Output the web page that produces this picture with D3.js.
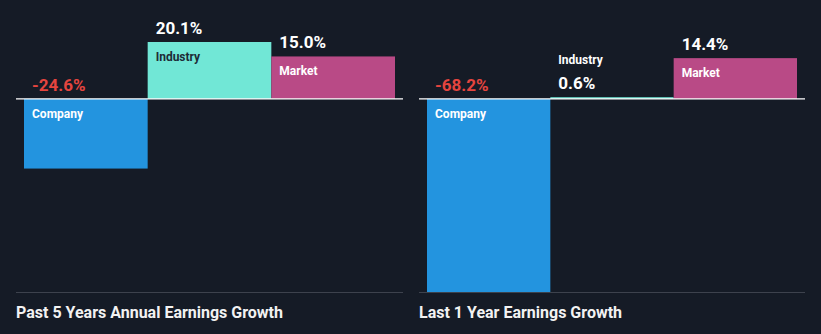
<!DOCTYPE html>
<html>
<head>
<meta charset="utf-8">
<script src="https://cdn.jsdelivr.net/npm/d3@7"></script>
<style>
  html, body { margin: 0; padding: 0; background: #151b26; }
  svg { display: block; }
  text { font-family: Roboto, "Noto Sans", sans-serif; }
</style>
</head>
<body>
<svg id="chart" width="821" height="334"></svg>
<script>
// Earnings growth comparison: company vs industry vs market
const categories = ["Company", "Industry", "Market"];
const pastFiveYears = [-24.6, 20.1, 15.0];
const lastOneYear = [-68.2, 0.6, 14.4];
const panelTitles = ["Past 5 Years Annual Earnings Growth", "Last 1 Year Earnings Growth"];

const colors = { Company: "#2394df", Industry: "#71e7d6", Market: "#b94a86" };
const labelColors = { Company: "#ffffff", Industry: "#1d2b36", Market: "#ffffff" };

const W = 821, H = 334;
const svg = d3.select("#chart");
svg.append("rect").attr("width", W).attr("height", H).attr("fill", "#151b26");

const allValues = pastFiveYears.concat(lastOneYear);
const y = d3.scaleLinear()
  .domain([d3.min(allValues), d3.max(allValues)])
  .range([292, 42]);

const fmt = v => d3.format(".1f")(v).replace("\u2212", "-") + "%";

const panels = [
  { values: pastFiveYears, title: panelTitles[0], lineX: [16, 403], barX: [24, 395] },
  { values: lastOneYear, title: panelTitles[1], lineX: [419, 805], barX: [427, 797] }
];

panels.forEach(p => {
  const g = svg.append("g");
  const x = d3.scaleBand().domain(categories).range(p.barX).padding(0);
  const data = categories.map((c, i) => ({ cat: c, v: p.values[i] }));

  // bottom rule
  g.append("line")
    .attr("x1", p.lineX[0]).attr("x2", p.lineX[1])
    .attr("y1", 292.5).attr("y2", 292.5)
    .attr("stroke", "#3d424d").attr("stroke-width", 1);

  // bars
  g.selectAll("rect.bar").data(data).enter().append("rect")
    .attr("class", "bar")
    .attr("x", d => x(d.cat))
    .attr("width", x.bandwidth())
    .attr("y", d => Math.min(y(d.v), y(0)))
    .attr("height", d => Math.abs(y(d.v) - y(0)))
    .attr("fill", d => colors[d.cat]);

  // zero line
  g.append("line")
    .attr("x1", p.lineX[0]).attr("x2", p.lineX[1])
    .attr("y1", y(0)).attr("y2", y(0))
    .attr("stroke", "#ffffff").attr("stroke-width", 1.2);

  data.forEach(d => {
    const bx = x(d.cat) + 8;
    const h = Math.abs(y(d.v) - y(0));
    const top = Math.min(y(d.v), y(0));
    const small = d.v >= 0 && h < 25;

    // category label
    g.append("text")
      .attr("x", bx)
      .attr("y", small ? y(0) - 35 : top + 19)
      .attr("fill", small ? "#ffffff" : labelColors[d.cat])
      .attr("font-size", 12).attr("font-weight", 700)
      .text(d.cat);

    // value label
    g.append("text")
      .attr("x", bx)
      .attr("y", d.v < 0 ? y(0) - 8 : (small ? y(0) - 10 : y(d.v) - 8))
      .attr("fill", d.v < 0 ? "#e5453f" : "#ffffff")
      .attr("font-size", 17).attr("font-weight", 700)
      .text(fmt(d.v));
  });

  // panel title
  g.append("text")
    .attr("x", p.lineX[0]).attr("y", 318)
    .attr("fill", "#f2f2f2")
    .attr("font-size", 16).attr("font-weight", 700)
    .text(p.title);
});
</script>
</body>
</html>
